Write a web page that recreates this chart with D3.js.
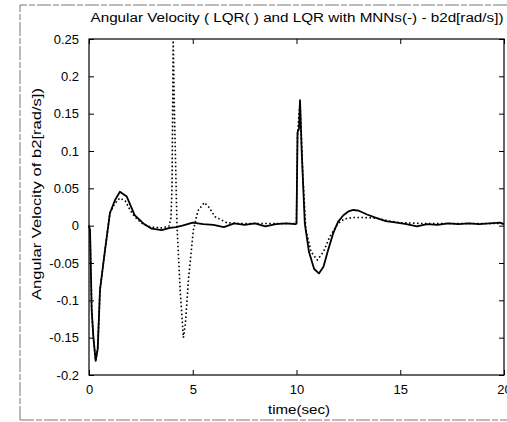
<!DOCTYPE html>
<html><head><meta charset="utf-8">
<script src="https://cdn.jsdelivr.net/npm/d3@7"></script>
<style>html,body{margin:0;padding:0;background:#fff;}svg{display:block;}</style>
</head><body>
<svg id="c" width="507" height="422"></svg>
<script>
// Data
const tSolid = [0,0.05,0.09,0.13,0.21,0.32,0.42,0.53,0.77,1.01,1.25,1.49,1.82,2.2,2.62,3.02,3.5,3.9,4.2,4.5,5.0,5.5,6.0,6.5,7.0,7.5,8.0,8.5,9.0,9.5,9.95,10.0,10.05,10.12,10.17,10.25,10.4,10.6,10.85,11.08,11.3,11.5,11.77,12.0,12.26,12.5,12.74,13.0,13.4,13.87,14.3,14.83,15.3,15.8,16.3,16.8,17.3,17.8,18.3,18.8,19.3,19.8,20];
const vSolid = [0,-0.006,-0.06,-0.113,-0.149,-0.181,-0.165,-0.086,-0.033,0.017,0.034,0.0455,0.039,0.014,0.003,-0.004,-0.006,-0.003,-0.002,0.000,0.004,0.002,0.001,-0.002,0.003,0.001,0.003,-0.001,0.002,0.003,0.002,0.003,0.125,0.13,0.168,0.10,0.003,-0.035,-0.058,-0.064,-0.055,-0.035,-0.010,0.005,0.014,0.019,0.021,0.020,0.015,0.010,0.006,0.004,0.002,-0.001,0.002,0.001,0.003,0.002,0.003,0.002,0.003,0.004,0.002];
const tDotted = [0,0.05,0.09,0.13,0.21,0.32,0.42,0.53,0.77,1.01,1.25,1.49,1.75,1.98,2.2,2.6,3.0,3.5,3.85,3.95,4.0,4.06,4.12,4.24,4.4,4.55,4.65,4.8,5.03,5.25,5.56,5.8,6.07,6.64,7.2,8.0,9.0,10.0,10.05,10.12,10.17,10.3,10.45,10.7,11.0,11.3,11.6,12.0,12.3,12.74,13.2,13.87,14.5,15.0,16.0,17.0,18.0,19.0,20];
const vDotted = [0,-0.006,-0.06,-0.113,-0.149,-0.181,-0.165,-0.086,-0.033,0.017,0.030,0.037,0.033,0.021,0.012,0.002,-0.002,-0.003,-0.001,0.010,0.05,0.248,0.15,0.0,-0.09,-0.150,-0.13,-0.07,-0.006,0.02,0.031,0.024,0.012,0.004,0.003,0.003,0.003,0.003,0.12,0.15,0.165,0.07,-0.005,-0.035,-0.046,-0.035,-0.015,0.003,0.009,0.011,0.011,0.010,0.006,0.004,0.003,0.003,0.003,0.003,0.003];
const xTicks = [0,5,10,15,20];
const yTicks = [-0.2,-0.15,-0.1,-0.05,0,0.05,0.1,0.15,0.2,0.25];
const yTickLabels = ["-0.2","-0.15","-0.1","-0.05","0","0.05","0.1","0.15","0.2","0.25"];
const titleText = "Angular Velocity  ( LQR( ) and  LQR with MNNs(-) - b2d[rad/s])";
const xLabel = "time(sec)";
const yLabel = "Angular Velocity of b2[rad/s])";

const svg = d3.select("#c");
const L = 89, R = 504, T = 39, B = 375;
const x = d3.scaleLinear().domain([0,20]).range([L,R]);
const y = d3.scaleLinear().domain([-0.2,0.25]).range([B,T]);
const font = "'Liberation Sans', Arial, sans-serif";

// outer frame (scan border)
svg.append("path").attr("d","M20,420 L20,5 L507,5 M20,420 L507,420")
  .attr("fill","none").attr("stroke","#777").attr("stroke-width",1).attr("stroke-dasharray","14,2,6,2");

// axes box
svg.append("rect").attr("x",L).attr("y",T).attr("width",R-L).attr("height",B-T)
  .attr("fill","none").attr("stroke","#000").attr("stroke-width",1.2);

// axes with inward ticks
const gx = svg.append("g").attr("transform",`translate(0,${B})`)
  .call(d3.axisBottom(x).tickValues(xTicks).tickSizeInner(-5).tickSizeOuter(0).tickPadding(10).tickFormat(d3.format("d")));
const gxTop = svg.append("g").attr("transform",`translate(0,${T})`)
  .call(d3.axisTop(x).tickValues(xTicks).tickSizeInner(-5).tickSizeOuter(0).tickFormat(""));
const gy = svg.append("g").attr("transform",`translate(${L},0)`)
  .call(d3.axisLeft(y).tickValues(yTicks).tickSizeInner(-5).tickSizeOuter(0).tickPadding(10).tickFormat((d,i)=>yTickLabels[i]));
const gyR = svg.append("g").attr("transform",`translate(${R},0)`)
  .call(d3.axisRight(y).tickValues(yTicks).tickSizeInner(-5).tickSizeOuter(0).tickFormat(""));
[gx,gxTop,gy,gyR].forEach(g=>{
  g.select(".domain").remove();
  g.selectAll("line").attr("stroke","#000");
  g.selectAll("text").attr("font-family",font).attr("font-size",13).attr("fill","#000");
});

// lines
const line = d3.line().x(d=>x(d[0])).y(d=>y(d[1]));
svg.append("path").datum(tDotted.map((t,i)=>[t,vDotted[i]])).attr("d",line)
  .attr("fill","none").attr("stroke","#000").attr("stroke-width",1.6).attr("stroke-dasharray","1.6,2.4");
svg.append("path").datum(tSolid.map((t,i)=>[t,vSolid[i]])).attr("d",line)
  .attr("fill","none").attr("stroke","#000").attr("stroke-width",1.8).attr("stroke-linejoin","round");

// texts
svg.append("text").attr("x",297).attr("y",22).attr("text-anchor","middle")
  .attr("font-family",font).attr("font-size",12.5).attr("textLength",413).attr("lengthAdjust","spacingAndGlyphs")
  .text(titleText);
svg.append("text").attr("x",299).attr("y",414).attr("text-anchor","middle")
  .attr("font-family",font).attr("font-size",13).attr("textLength",62).attr("lengthAdjust","spacingAndGlyphs")
  .text(xLabel);
svg.append("text").attr("transform","translate(41,194) rotate(-90)").attr("text-anchor","middle")
  .attr("font-family",font).attr("font-size",12.5).attr("textLength",212).attr("lengthAdjust","spacingAndGlyphs")
  .text(yLabel);
</script>
</body></html>
